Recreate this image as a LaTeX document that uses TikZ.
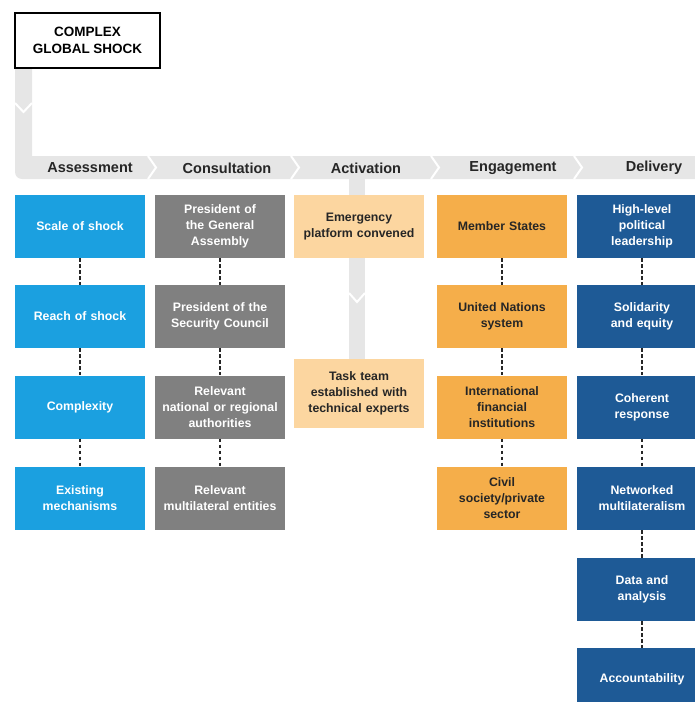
\documentclass[tikz,border=0pt]{standalone}
\usepackage{fontspec}
\setmainfont{Liberation Sans}
\usepackage{xcolor}
\usetikzlibrary{positioning}

\definecolor{bandgrey}{HTML}{E6E6E6}
\definecolor{assessblue}{HTML}{1BA0E0}
\definecolor{consultgrey}{HTML}{808080}
\definecolor{activlight}{HTML}{FCD6A0}
\definecolor{engageorange}{HTML}{F5AE4A}
\definecolor{deliverblue}{HTML}{1E5A96}

\begin{document}
\begin{tikzpicture}[x=1pt, y=-1pt,
    box/.style={minimum width=130pt, minimum height=63pt, text width=126pt, align=center,
        inner sep=0pt, font=\bfseries\fontsize{12.3}{16}\selectfont},
    assess/.style={box, fill=assessblue, text=white},
    consult/.style={box, fill=consultgrey, text=white},
    activ/.style={box, fill=activlight, text=black!85},
    engage/.style={box, fill=engageorange, text=black!85},
    deliver/.style={box, fill=deliverblue, text=white},
    head/.style={font=\bfseries\fontsize{14.5}{17}\selectfont, text=black!85},
    link/.style={draw=black!85, line width=1.2pt, dash pattern=on 3.5pt off 2.5pt},
    notch/.style={draw=white, line width=2pt}]
    \useasboundingbox (0,0) rectangle (695,702);

    % grey flow band
    \fill[bandgrey] (15,68) [rounded corners=7pt] -- (15,179) -- (710,179) -- (710,156) [sharp corners] -- (32,156) -- (32,68) -- cycle;
    \fill[bandgrey] (349,179) rectangle (365,362);
    \draw[notch] (15,103) -- (23.5,112) -- (32,103);
    \draw[notch] (349,293) -- (357,302) -- (365,293);
    \foreach \cx in {148,291,431,574}
        \draw[notch] (\cx,156) -- (\cx+8,167.5) -- (\cx,179);

    % start
    \node[draw=black, line width=2pt, minimum width=145pt, minimum height=55pt, align=center,
        font=\bfseries\fontsize{13.5}{17}\selectfont, inner sep=0pt] (shock) at (87.5,40.5) {COMPLEX\\GLOBAL SHOCK};

    % headers
    \node[head] (hassess) at (90,168) {Assessment};
    \node[head] (hconsult) at (227,168) {Consultation};
    \node[head] (hactiv) at (366,168) {Activation};
    \node[head] (hengage) at (513,168) {Engagement};
    \node[head] (hdeliver) at (654,168) {Delivery};

    % assessment
    \node[assess] (a1) at (80,226.5) {Scale of shock};
    \node[assess] (a2) at (80,316.5) {Reach of shock};
    \node[assess] (a3) at (80,407) {Complexity};
    \node[assess] (a4) at (80,498.5) {Existing\\mechanisms};

    % consultation
    \node[consult] (c1) at (220,226.5) {President of\\the General\\Assembly};
    \node[consult] (c2) at (220,316.5) {President of the\\Security Council};
    \node[consult] (c3) at (220,407) {Relevant\\national or regional\\authorities};
    \node[consult] (c4) at (220,498.5) {Relevant\\multilateral entities};

    % activation
    \node[activ] (v1) at (359,226.5) {Emergency\\platform convened};
    \node[activ, minimum height=69pt] (v2) at (359,393) {Task team\\established with\\technical experts};

    % engagement
    \node[engage] (e1) at (502,226.5) {Member States};
    \node[engage] (e2) at (502,316.5) {United Nations\\system};
    \node[engage] (e3) at (502,407) {International\\financial\\institutions};
    \node[engage] (e4) at (502,498.5) {Civil\\society/private\\sector};

    % delivery
    \node[deliver] (d1) at (642,226.5) {High-level\\political\\leadership};
    \node[deliver] (d2) at (642,316.5) {Solidarity\\and equity};
    \node[deliver] (d3) at (642,407) {Coherent\\response};
    \node[deliver] (d4) at (642,498.5) {Networked\\multilateralism};
    \node[deliver] (d5) at (642,589.5) {Data and\\analysis};
    \node[deliver] (d6) at (642,679.5) {Accountability};

    % dashed links
    \foreach \col/\n in {a/4,c/4,e/4,d/6} {
        \foreach \i [remember=\i as \j (initially 1)] in {2,...,\n}
            \draw[link] (\col\j.south) -- (\col\i.north);
    }
\end{tikzpicture}
\end{document}
